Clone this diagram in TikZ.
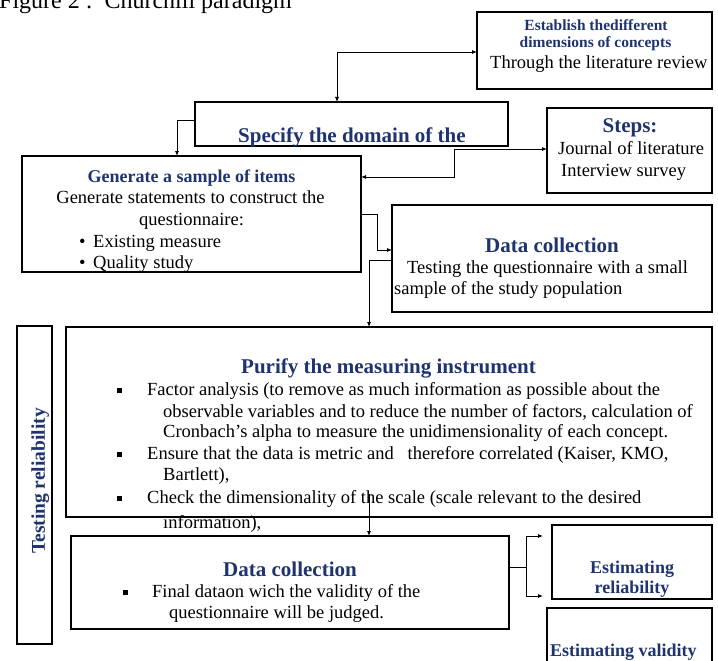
\documentclass[tikz,border=0pt]{standalone}
\usepackage{fontspec}
\setmainfont{Liberation Serif}
\usetikzlibrary{arrows.meta}
\definecolor{hblue}{RGB}{31,52,110}
\tikzset{
  box/.style={draw=black, line width=2pt, rectangle, inner sep=0pt, outer sep=0pt, anchor=north west},
  conn/.style={draw=black, line width=0.8pt, -{Latex[length=5pt,width=4pt]}},
  conn2/.style={draw=black, line width=0.8pt, {Latex[length=5pt,width=4pt]}-{Latex[length=5pt,width=4pt]}},
  plain/.style={draw=black, line width=0.8pt},
  body/.style={inner sep=0pt, font=\fontsize{18.5}{21}\selectfont},
  head/.style={inner sep=0pt, text=hblue, font=\fontsize{21}{24}\selectfont\bfseries},
  heads/.style={inner sep=0pt, text=hblue, font=\fontsize{18}{21}\selectfont\bfseries},
  headxs/.style={inner sep=0pt, text=hblue, font=\fontsize{15.5}{18}\selectfont\bfseries},
  sq/.style={inner sep=0pt, fill=black, minimum width=5pt, minimum height=5pt, anchor=south west}
}
\begin{document}
\begin{tikzpicture}[x=1pt,y=-1pt]
\useasboundingbox (0,0) rectangle (718,661);

% title
\node[inner sep=0pt, anchor=base west, font=\fontsize{24}{28}\selectfont] (title) at (-1,9) {Figure 2 :\ \ Churchill paradigm};

% boxes
\node[box, minimum width=235pt, minimum height=77pt] (est) at (477,12) {};
\node[box, minimum width=313pt, minimum height=44pt] (spec) at (195,102) {};
\node[box, minimum width=165pt, minimum height=85pt] (steps) at (547,108) {};
\node[box, minimum width=339pt, minimum height=116pt] (gen) at (22,156) {};
\node[box, minimum width=320pt, minimum height=107pt] (dc1) at (392,205) {};
\node[box, minimum width=35pt, minimum height=318pt] (test) at (17,326) {};
\node[box, minimum width=646pt, minimum height=190pt] (pur) at (66,327) {};
\node[box, minimum width=438pt, minimum height=93pt] (dc2) at (71,536) {};
\node[box, minimum width=160pt, minimum height=74pt] (erel) at (552,525) {};
\node[box, minimum width=165pt, minimum height=70pt] (eval) at (547,608) {};

% texts: establish
\node[headxs, anchor=base] (estA) at (596,31) {Establish thedifferent};
\node[headxs, anchor=base] (estB) at (595.5,48) {dimensions of concepts};
\node[body, anchor=base west] (estC) at (490,69) {Through the literature review};

% specify
\node[head, anchor=base west] (specA) at (238,142) {Specify the domain of the};

% steps
\node[head, anchor=base] (stA) at (630,132) {Steps:};
\node[body, anchor=base west] (stB) at (558,154) {Journal of literature};
\node[body, anchor=base west] (stC) at (561,176) {Interview survey};

% generate
\node[heads, anchor=base] (genA) at (191.5,182) {Generate a sample of items};
\node[body, anchor=base] (genB) at (190.5,203) {Generate statements to construct the};
\node[body, anchor=base] (genC) at (191.5,225) {questionnaire:};
\node[body, anchor=base west] (genD1) at (79,247) {•};
\node[body, anchor=base west] (genD) at (93,247) {Existing measure};
\node[body, anchor=base west] (genE1) at (79,268) {•};
\node[body, anchor=base west] (genE) at (93,268) {Quality study};

% data collection 1
\node[head, anchor=base] (dcA) at (552,252) {Data collection};
\node[body, anchor=base west] (dcB) at (407,273) {Testing the questionnaire with a small};
\node[body, anchor=base west] (dcC) at (394,294) {sample of the study population};

% testing reliability
\node[inner sep=0pt, text=hblue, font=\fontsize{19.5}{22}\selectfont\bfseries, rotate=90, anchor=base] (testA) at (45,481) {Testing reliability};

% purify
\node[head, anchor=base] (purA) at (388.5,373) {Purify the measuring instrument};
\node[sq] (b1) at (117,393) {};
\node[body, anchor=base west] (p1) at (147,395) {Factor analysis (to remove as much information as possible about the};
\node[body, anchor=base west] (p2) at (163,417) {observable variables and to reduce the number of factors, calculation of};
\node[body, anchor=base west] (p3) at (163,437) {Cronbach’s alpha to measure the unidimensionality of each concept.};
\node[sq] (b2) at (117,457) {};
\node[body, anchor=base west] (p4) at (147,459) {Ensure that the data is metric and\ \ \ therefore correlated (Kaiser, KMO,};
\node[body, anchor=base west] (p5) at (163,480) {Bartlett),};
\node[sq] (b3) at (117,501) {};
\node[body, anchor=base west] (p6) at (147,503) {Check the dimensionality of the scale (scale relevant to the desired};
\node[body, anchor=base west] (p7) at (163,528) {information),};

% data collection 2
\node[head, anchor=base] (dc2A) at (290,576) {Data collection};
\node[sq] (b4) at (123,595) {};
\node[body, anchor=base west] (dc2B) at (152,597) {Final dataon wich the validity of the};
\node[body, anchor=base west] (dc2C) at (169,618) {questionnaire will be judged.};

% estimating
\node[heads, anchor=base] (erA) at (632,573) {Estimating};
\node[heads, anchor=base] (erB) at (632,593) {reliability};
\node[heads, anchor=base west] (evA) at (550,656) {Estimating validity};

% connectors
\coordinate (j1) at (337,52);
\draw[conn2] (spec.north -| j1) |- (est.west |- j1);

\coordinate (j2) at (177,120);
\draw[conn] (spec.west |- j2) -| (gen.north -| j2);

\coordinate (j3) at (454,149);
\coordinate (j3b) at (454,177);
\draw[conn2] (gen.east |- j3b) -| (j3) -- (steps.west |- j3);

\coordinate (j4) at (377,214);
\coordinate (j4b) at (377,250);
\draw[conn] (gen.east |- j4) -| (j4b) -- (dc1.west |- j4b);

\coordinate (j5) at (369,260);
\draw[conn] (dc1.west |- j5) -| (pur.north -| j5);

\coordinate (j6) at (369,494);
\draw[conn] (j6) -- (dc2.north -| j6);

\coordinate (j7) at (526,567);
\coordinate (e1) at (543,536);
\coordinate (e2) at (543,596);
\draw[plain] (dc2.east |- j7) -- (j7);
\draw[conn] (j7) |- (e1);
\draw[conn] (j7) |- (e2);
\end{tikzpicture}
\end{document}
